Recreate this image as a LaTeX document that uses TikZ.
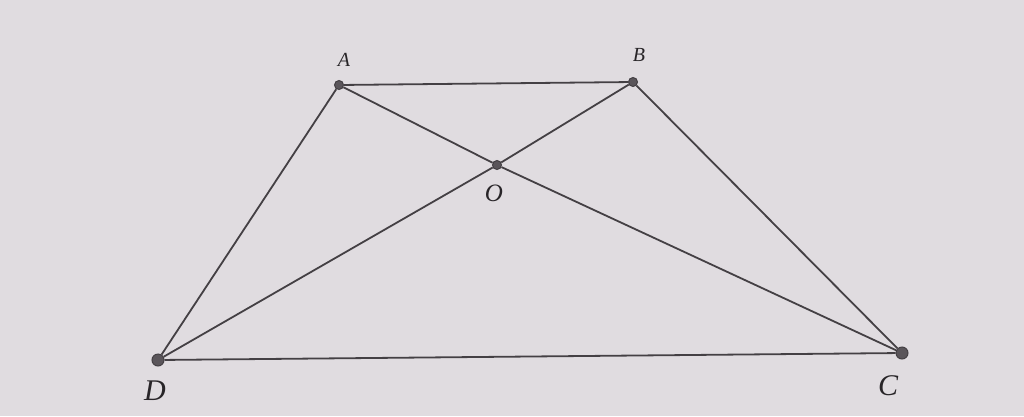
\documentclass[tikz,border=0pt]{standalone}
\usepackage{fontspec}
\setmainfont{Liberation Serif}
\begin{document}
\begin{tikzpicture}[x=1pt,y=-1pt,
  seg/.style={draw=linegray,line width=1.8pt},
  pt/.style={circle,fill=ptgray,draw=linegray,line width=1pt,inner sep=0pt,minimum size=#1},
  pt/.default=9pt,
  lbl/.style={text=labelgray,font=\fontsize{#1}{#1}\selectfont\itshape},
  lbl/.default=20]
\definecolor{bg}{RGB}{224,220,224}
\definecolor{linegray}{RGB}{68,64,68}
\definecolor{ptgray}{RGB}{90,85,90}
\definecolor{labelgray}{RGB}{40,37,40}
\fill[bg] (0,0) rectangle (1024,416);
\useasboundingbox (0,0) rectangle (1024,416);
\node[pt=9pt] (A) at (339,85) {};
\node[pt=9pt] (B) at (633,82) {};
\node[pt=9pt] (O) at (497,165) {};
\node[pt=12pt] (D) at (158,360) {};
\node[pt=12pt] (C) at (902,353) {};
\draw[seg] (A) -- (B) -- (C) -- (D) -- (A);
\draw[seg] (A) -- (O) -- (C);
\draw[seg] (B) -- (O) -- (D);
\node[lbl=20] (la) at (344,60) {A};
\node[lbl=20] (lb) at (639,55) {B};
\node[lbl=25] (lo) at (494,193) {O};
\node[lbl=30] (ld) at (155,391) {D};
\node[lbl=30] (lc) at (888,386) {C};
\end{tikzpicture}
\end{document}
